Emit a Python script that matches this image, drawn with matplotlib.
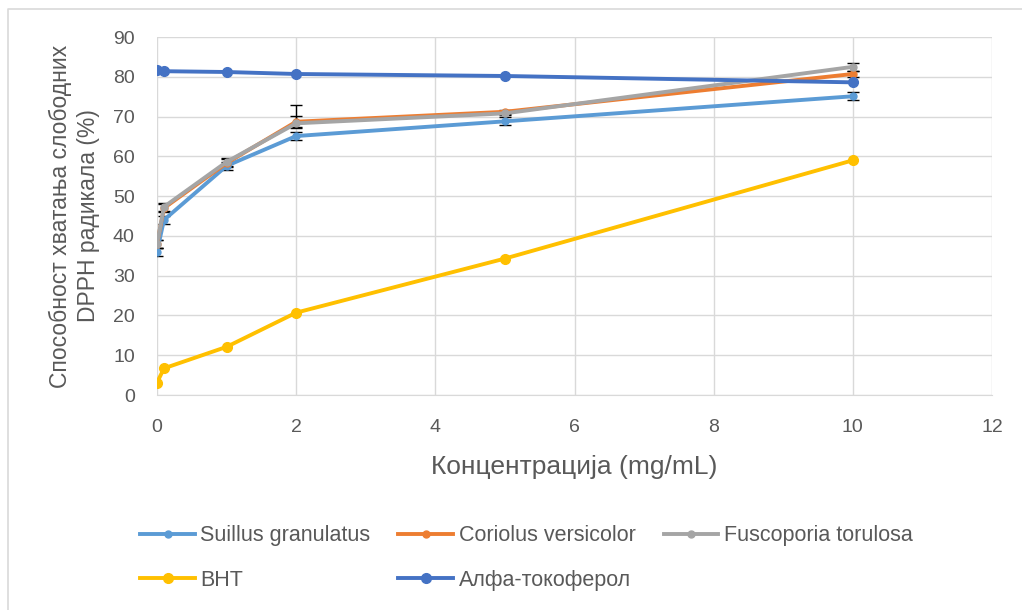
import numpy as np
import matplotlib.pyplot as plt
from matplotlib.lines import Line2D

conc = [0.0, 0.1, 1, 2, 5, 10]

suillus = [36.0, 44.0, 57.6, 65.1, 68.8, 75.1]
suillus_err = [1.0, 1.0, 1.0, 1.0, 1.0, 1.0]
coriolus = [37.9, 47.0, 58.3, 68.7, 71.2, 80.7]
coriolus_err = [1.0, 1.0, 1.0, 1.5, 0.5, 0.8]
fuscoporia = [38.0, 47.3, 58.6, 68.3, 70.8, 82.5]
fuscoporia_err_lo = [1.0, 1.0, 1.0, 1.0, 0.5, 1.0]
fuscoporia_err_hi = [1.0, 1.0, 1.0, 4.5, 0.5, 1.0]
bht = [3.1, 6.7, 12.1, 20.7, 34.3, 59.0]
alpha_toc = [81.7, 81.4, 81.2, 80.7, 80.2, 78.6]

labels = ["Suillus granulatus", "Coriolus versicolor", "Fuscoporia torulosa",
          "BHT", "Алфа-токоферол"]
colors = ["#5b9bd5", "#ed7d31", "#a5a5a5", "#ffc000", "#4472c4"]
marker_sizes = [5, 5, 5, 7, 7]

plt.rcParams['font.family'] = ['Liberation Sans', 'DejaVu Sans']
TXT = "#595959"
GRID = "#d9d9d9"

fig = plt.figure(figsize=(10.22, 6.10), dpi=100)
ax = fig.add_axes([157 / 1022, 215 / 610, 835 / 1022, 358 / 610])

err_kw = dict(ecolor="black", elinewidth=1.0, capsize=4, capthick=1.0)
ax.errorbar(conc, suillus, yerr=suillus_err, color=colors[0], lw=2.8,
            marker="o", ms=5, zorder=3, **err_kw)
ax.errorbar(conc, coriolus, yerr=coriolus_err, color=colors[1], lw=2.8,
            marker="o", ms=5, zorder=3, **err_kw)
ax.errorbar(conc, fuscoporia, yerr=[fuscoporia_err_lo, fuscoporia_err_hi],
            color=colors[2], lw=2.8, marker="o", ms=5, zorder=3, **err_kw)
ax.plot(conc, bht, color=colors[3], lw=2.8, marker="o", ms=7, zorder=3)
ax.plot(conc, alpha_toc, color=colors[4], lw=2.8, marker="o", ms=7, zorder=4)

ax.set_xlim(0, 12)
ax.set_ylim(0, 90)
ax.set_xticks(np.arange(0, 13, 2))
ax.set_yticks(np.arange(0, 91, 10))
ax.grid(True, color=GRID, lw=1.0, zorder=0)
ax.set_axisbelow(True)
for s in ["top", "right", "left"]:
    ax.spines[s].set_visible(False)
ax.spines["bottom"].set_color(GRID)
ax.tick_params(length=0, labelsize=14, colors=TXT)
ax.tick_params(axis="x", pad=17)
ax.tick_params(axis="y", pad=16)

ax.set_xlabel("Концентрација (mg/mL)", fontsize=19, color=TXT, labelpad=14)
ax.set_ylabel("Способност хватања слободних\nDPPH радикала (%)", fontsize=16.5,
              color=TXT, labelpad=9, linespacing=1.3)

# legend is filled column by column, so reorder to get rows like the original
order = [0, 3, 1, 4, 2]
proxies = [Line2D([], [], color=colors[i], lw=2.8, marker="o", ms=marker_sizes[i])
           for i in order]
leg = fig.legend(proxies, [labels[i] for i in order], loc="upper left",
                 bbox_to_anchor=(125 / 1022, 1 - 510 / 610),
                 ncol=3, frameon=False, fontsize=15.5, handlelength=2.55,
                 columnspacing=1.3, labelspacing=1.1, handletextpad=0.25,
                 borderpad=0.2)
for t in leg.get_texts():
    t.set_color(TXT)

# chart area border (cropped: only left and top edges visible)
fig.add_artist(Line2D([7.5 / 1022, 7.5 / 1022, 1.0], [0.0, 1 - 8.5 / 610, 1 - 8.5 / 610],
                      transform=fig.transFigure, color=GRID, lw=1.2))

fig.savefig("out.png", dpi=100)
